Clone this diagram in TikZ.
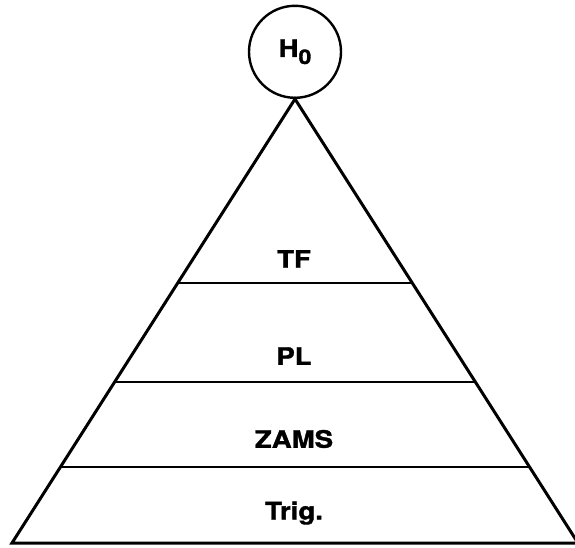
\documentclass[tikz,border=0pt]{standalone}
\usepackage{fontspec}
\newfontfamily\labelfont[FakeStretch=1.15,FakeBold=1.5]{TeX Gyre Heros}
\usetikzlibrary{calc}

\tikzset{
  pyr/.style={line width=3pt, line join=miter},
  layer/.style={line width=2.4pt},
  lbl/.style={font=\labelfont\bfseries\fontsize{24}{24}\selectfont, inner sep=0pt}
}

\begin{document}
\begin{tikzpicture}[x=1pt, y=-1pt]
  \useasboundingbox (0,0) rectangle (575,548);

  % Corners of the pyramid
  \coordinate (apex) at (295,99);
  \coordinate (bl) at (12,543);
  \coordinate (br) at (578,543);
  \draw[pyr] (apex) -- (bl) -- (br) -- cycle;

  % Dividing lines (fraction of the way down from the apex)
  \foreach \name/\t in {tf/0.414, pl/0.637, zams/0.829} {
    \coordinate (\name-l) at ($(apex)!\t!(bl)$);
    \coordinate (\name-r) at ($(apex)!\t!(br)$);
    \draw[layer] (\name-l) -- (\name-r);
  }

  % Layer labels
  \node[lbl] (tf) at (294,259) {TF};
  \node[lbl] (pl) at (294,356) {PL};
  \node[lbl] (zams) at (294,439) {ZAMS};
  \node[lbl] (trig) at (294,513) {Trig.};

  % Top of the ladder
  \node[draw, circle, line width=2.4pt, minimum size=92pt, inner sep=0pt,
        anchor=south] (hub) at (apex)
        {\labelfont\bfseries\fontsize{24}{24}\selectfont
         H\raisebox{-7pt}{\fontsize{20}{20}\selectfont 0}};
\end{tikzpicture}
\end{document}
